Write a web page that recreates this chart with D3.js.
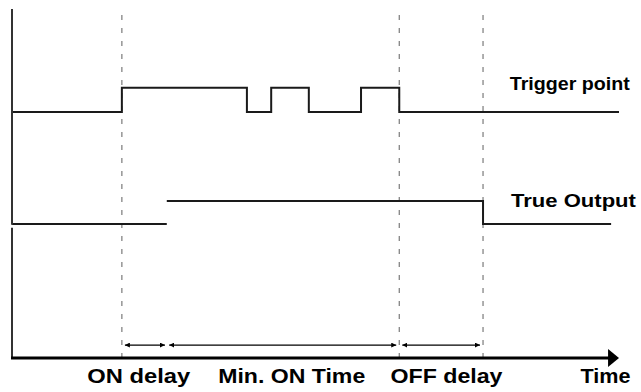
<!DOCTYPE html>
<html><head><meta charset="utf-8">
<script src="https://cdn.jsdelivr.net/npm/d3@7"></script>
<style>html,body{margin:0;padding:0;background:#fff;}svg{display:block;}</style>
</head><body>
<svg id="chart" width="641" height="392"></svg>
<script>
// ---- data (time units 0..100, level units 0..100) ----
const triggerTimes  = [0, 18.1, 38.7, 42.7, 48.9, 57.5, 63.8, 100];
const triggerStates = [0, 1, 0, 1, 0, 1, 0];
const outputTimes   = [0, 25.5, 77.6, 98.7];
const outputStates  = [0, 1, 0];
const outputEdgeDrawn = [false, true];
const markerTimes   = [18.1, 63.8, 77.6];
const intervalStart = [18.6, 25.9, 64.3];
const intervalEnd   = [25.2, 63.3, 77.1];
const axisLabels    = ["ON delay", "Min. ON Time", "OFF delay", "Time"];
const axisLabelPos  = [20.8, 46.0, 71.5, 97.7];
const axisLabelLen  = [103, 147, 112, 50];
const signalNames   = ["Trigger point", "True Output"];
const signalLow     = [70.5, 38.4];
const signalHigh    = [77.4, 45.0];

const svg = d3.select("#chart");
const x = d3.scaleLinear().domain([0, 100]).range([12, 619]);
const y = d3.scaleLinear().domain([0, 100]).range([358, 9]);
const font = "'Liberation Sans', Arial, sans-serif";

// dashed markers
svg.selectAll("line.marker").data(markerTimes).enter().append("line")
  .attr("x1", d => x(d)).attr("x2", d => x(d))
  .attr("y1", y(98.3)).attr("y2", y(0))
  .attr("stroke", "#7a7a7a").attr("stroke-width", 1.2)
  .attr("stroke-dasharray", "5,8");

// trigger signal (step)
const trigPts = triggerTimes.map((t, i) => [t, i < triggerStates.length ? triggerStates[i] : triggerStates[triggerStates.length - 1]]);
const lvl = (row, s) => s ? y(signalHigh[row]) : y(signalLow[row]);
svg.append("path")
  .attr("d", d3.line().x(d => x(d[0])).y(d => lvl(0, d[1])).curve(d3.curveStepAfter)(trigPts))
  .attr("fill", "none").attr("stroke", "#1a1a1a").attr("stroke-width", 2);

// output signal
let pth = d3.path();
outputStates.forEach((s, i) => {
  const yy = lvl(1, s);
  if (i === 0 || !outputEdgeDrawn[i - 1]) pth.moveTo(x(outputTimes[i]), yy);
  else pth.lineTo(x(outputTimes[i]), yy);
  pth.lineTo(x(outputTimes[i + 1]), yy);
});
svg.append("path").attr("d", pth.toString())
  .attr("fill", "none").attr("stroke", "#1a1a1a").attr("stroke-width", 2);

// left axis with small break
svg.append("line").attr("x1", x(0)).attr("x2", x(0)).attr("y1", y(100)).attr("y2", y(38.2))
  .attr("stroke", "#333").attr("stroke-width", 2);
svg.append("line").attr("x1", x(0)).attr("x2", x(0)).attr("y1", y(37.3)).attr("y2", y(0))
  .attr("stroke", "#333").attr("stroke-width", 2);

// time axis with arrow
svg.append("line").attr("x1", x(0) - 1).attr("x2", x(98.5)).attr("y1", y(0)).attr("y2", y(0))
  .attr("stroke", "#000").attr("stroke-width", 3);
svg.append("path")
  .attr("d", `M${x(98.2)},${y(0) - 9}L${x(100)},${y(0)}L${x(98.2)},${y(0) + 9}Z`)
  .attr("fill", "#000");

// interval arrows
svg.append("defs").html(
  '<marker id="ah" viewBox="0 0 10 10" refX="10" refY="5" markerWidth="5" markerHeight="5" orient="auto-start-reverse" markerUnits="userSpaceOnUse"><path d="M0,0L10,5L0,10Z" fill="#000"/></marker>');
svg.selectAll("line.iv").data(intervalStart).enter().append("line")
  .attr("x1", d => x(d)).attr("x2", (d, i) => x(intervalEnd[i]))
  .attr("y1", y(3.7)).attr("y2", y(3.7))
  .attr("stroke", "#000").attr("stroke-width", 1.3)
  .attr("marker-start", "url(#ah)").attr("marker-end", "url(#ah)");

// bottom labels via axis
const ax = d3.axisBottom(x).tickValues(axisLabelPos).tickSize(0)
  .tickFormat((d, i) => axisLabels[i]);
const g = svg.append("g").attr("transform", `translate(0,${y(0)})`).call(ax);
g.select(".domain").remove();
g.selectAll("text")
  .attr("y", 25).attr("dy", 0)
  .attr("font-family", font).attr("font-size", 20).attr("font-weight", "bold")
  .attr("fill", "#000")
  .attr("textLength", (d, i) => axisLabelLen[i]).attr("lengthAdjust", "spacingAndGlyphs");

// signal names
const nameX = [82.0, 82.2];
const nameY = [signalHigh[0] - 0.6, signalHigh[1] - 1.7];
const nameLen = [120, 125];
svg.selectAll("text.sig").data(signalNames).enter().append("text")
  .attr("x", (d, i) => x(nameX[i])).attr("y", (d, i) => y(nameY[i]))
  .attr("font-family", font).attr("font-size", 18).attr("font-weight", "bold")
  .attr("fill", "#000")
  .attr("textLength", (d, i) => nameLen[i]).attr("lengthAdjust", "spacingAndGlyphs")
  .text(d => d);
</script>
</body></html>
